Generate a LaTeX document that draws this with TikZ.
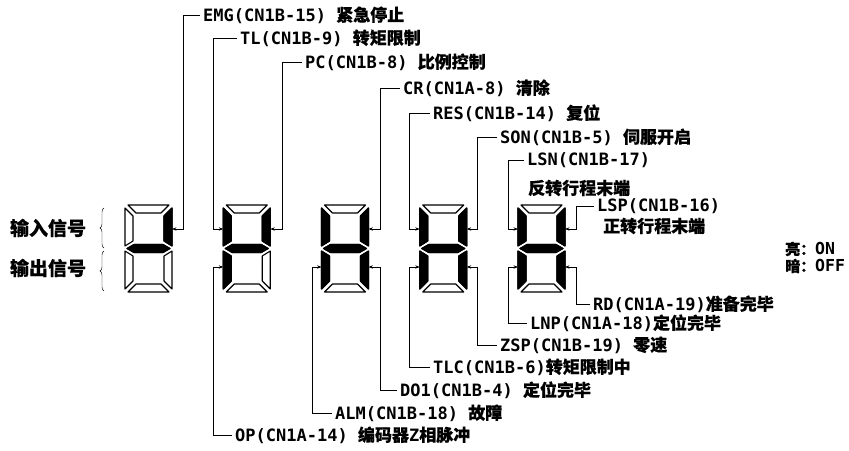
\documentclass[tikz,border=0pt]{standalone}
\usepackage{fontspec}
\setmainfont{DejaVu Sans Mono}
\newfontfamily\cjk{Noto Sans CJK SC}[FakeBold=0.4]
\usetikzlibrary{decorations.pathreplacing,arrows.meta}

% segment outlines of one digit, 47 wide and 87 high
\newcommand\sga{(3,0)--(44,0)--(36,8)--(11,8)--cycle}
\newcommand\sgb{(47,3)--(39,11)--(39,36)--(47,41)--cycle}
\newcommand\sgc{(47,46)--(39,51)--(39,76)--(47,84)--cycle}
\newcommand\sgd{(3,87)--(44,87)--(36,79)--(11,79)--cycle}
\newcommand\sge{(0,46)--(8,51)--(8,76)--(0,84)--cycle}
\newcommand\sgf{(0,3)--(8,11)--(8,36)--(0,41)--cycle}
\newcommand\sgg{(2,43.5)--(9,39.5)--(38,39.5)--(45,43.5)--(38,47.5)--(9,47.5)--cycle}

\begin{document}
\begin{tikzpicture}[x=1pt,y=-1pt,
  seg/.style={draw,line width=1.1pt,line join=round,fill=white},
  lit/.style={seg,fill=black},
  sig/.style={-{Stealth[length=4.5pt,width=3.4pt]},line width=0.7pt},
  lab/.style={anchor=west,inner sep=3pt,font=\bfseries\fontsize{17}{20}\selectfont}]
 \useasboundingbox (0,0) rectangle (849,450);

 % the five digits
 \foreach \x in {125,223.25,321.5,419.75,518}
  \foreach \p in {\sga,\sgb,\sgc,\sgd,\sge,\sgf,\sgg}
   \draw[seg,shift={(\x,205)}] \p;
 \foreach \x/\p in {125/\sgb,125/\sgg,
   223.25/\sgf,223.25/\sgb,223.25/\sgg,223.25/\sge,
   321.5/\sgf,321.5/\sgb,321.5/\sgg,321.5/\sge,321.5/\sgc,
   419.75/\sgf,419.75/\sgb,419.75/\sgg,419.75/\sge,419.75/\sgc,
   518/\sgf,518/\sgb,518/\sgg,518/\sge,518/\sgc}
   \draw[lit,shift={(\x,205)}] \p;

 \node[font=\bfseries\cjk\fontsize{19}{22}\selectfont] (inp) at (48,228) {输入信号};
 \node[font=\bfseries\cjk\fontsize{19}{22}\selectfont] (outp) at (48,268) {输出信号};
 \draw[decorate,decoration={brace,amplitude=4pt}] (104,248)--(104,208);
 \draw[decorate,decoration={brace,amplitude=4pt}] (104,291)--(104,251);

 % inputs
 \node[lab] (emg) at (200,15) {EMG(CN1B-15) {\cjk 紧急停止}};
 \node[lab] (tl) at (237,38) {TL(CN1B-9) {\cjk 转矩限制}};
 \node[lab] (pc) at (302,62) {PC(CN1B-8) {\cjk 比例控制}};
 \node[lab] (cr) at (400,88) {CR(CN1A-8) {\cjk 清除}};
 \node[lab] (res) at (430,113) {RES(CN1B-14) {\cjk 复位}};
 \node[lab] (son) at (497,137) {SON(CN1B-5) {\cjk 伺服开启}};
 \node[lab] (lsn) at (524,160) {LSN(CN1B-17)};
 \node[lab] (lsn2) at (525,188) {\cjk 反转行程末端};
 \node[lab] (lsp) at (594,206) {LSP(CN1B-16)};
 \node[lab] (lsp2) at (600,226) {\cjk 正转行程末端};
 % outputs
 \node[lab] (rd) at (590,304) {RD(CN1A-19){\cjk 准备完毕}};
 \node[lab] (lnp) at (527,323) {LNP(CN1A-18){\cjk 定位完毕}};
 \node[lab] (zsp) at (497,345) {ZSP(CN1B-19) {\cjk 零速}};
 \node[lab] (tlc) at (430,367) {TLC(CN1B-6){\cjk 转矩限制中}};
 \node[lab] (do1) at (397,390) {DO1(CN1B-4) {\cjk 定位完毕}};
 \node[lab] (alm) at (332,413) {ALM(CN1B-18) {\cjk 故障}};
 \node[lab] (op) at (232,435) {OP(CN1A-14) {\cjk 编码器}Z{\cjk 相脉冲}};

 \coordinate (emg-seg) at (172,229);
 \coordinate (tl-seg) at (223.25,229);
 \coordinate (pc-seg) at (270.25,229);
 \coordinate (cr-seg) at (368.5,229);
 \coordinate (res-seg) at (419.75,229);
 \coordinate (son-seg) at (466.75,229);
 \coordinate (lsn-seg) at (518,229);
 \coordinate (lsp-seg) at (565,229);
 \coordinate (rd-seg) at (565,267);
 \coordinate (lnp-seg) at (518,267);
 \coordinate (zsp-seg) at (466.75,267);
 \coordinate (tlc-seg) at (419.75,267);
 \coordinate (do1-seg) at (368.5,267);
 \coordinate (alm-seg) at (321.5,267);
 \coordinate (op-seg) at (223.25,267);

 \foreach \n/\d in {emg/11,tl/-10,pc/12,cr/12,res/-10,son/11,lsn/-10,lsp/11,
   rd/11,lnp/-10,zsp/11,tlc/-10,do1/12,alm/-9,op/-10}
   \draw[sig] (\n.west) -| ([xshift=\d pt]\n-seg) -- (\n-seg);

 \node[anchor=west,inner sep=0pt,font=\bfseries\fontsize{16.5}{18}\selectfont] (on) at (785,249)
   {{\cjk\fontsize{15}{18}\selectfont 亮：}ON};
 \node[anchor=west,inner sep=0pt,font=\bfseries\fontsize{16.5}{18}\selectfont] (off) at (785,266)
   {{\cjk\fontsize{15}{18}\selectfont 暗：}OFF};
\end{tikzpicture}
\end{document}
